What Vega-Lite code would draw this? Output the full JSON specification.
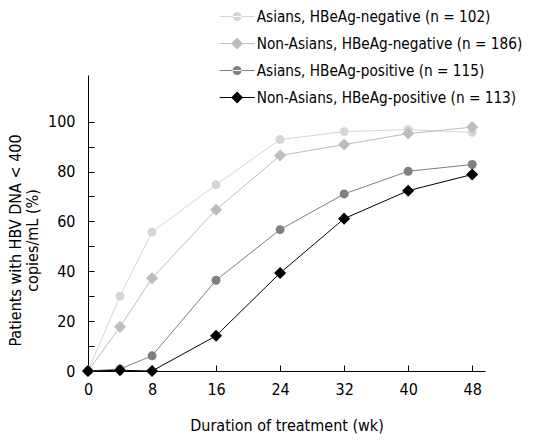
{
  "$schema": "https://vega.github.io/schema/vega-lite/v6.json",
  "width": 397,
  "height": 296,
  "autosize": {"type": "none"},
  "padding": {"left": 88, "top": 75, "right": 63, "bottom": 70},
  "background": "white",
  "config": {
    "view": {"stroke": null},
    "font": "DejaVu Sans Condensed",
    "axis": {
      "domainColor": "black",
      "tickColor": "black",
      "labelColor": "black",
      "titleColor": "black",
      "labelFont": "DejaVu Sans Condensed",
      "titleFont": "DejaVu Sans Condensed",
      "labelFontSize": 16,
      "titleFontSize": 16,
      "titleFontWeight": "normal",
      "grid": false,
      "tickSize": -6,
      "domainWidth": 1,
      "tickWidth": 1
    },
    "legend": {
      "labelFont": "DejaVu Sans Condensed",
      "labelFontSize": 15.2,
      "labelColor": "black"
    }
  },
  "data": {
    "values": [
      {"week": 0, "pct": 0, "series": "Asians, HBeAg-negative (n = 102)"},
      {"week": 4, "pct": 30, "series": "Asians, HBeAg-negative (n = 102)"},
      {"week": 8, "pct": 55.7, "series": "Asians, HBeAg-negative (n = 102)"},
      {"week": 16, "pct": 74.7, "series": "Asians, HBeAg-negative (n = 102)"},
      {"week": 24, "pct": 92.8, "series": "Asians, HBeAg-negative (n = 102)"},
      {"week": 32, "pct": 96, "series": "Asians, HBeAg-negative (n = 102)"},
      {"week": 40, "pct": 96.8, "series": "Asians, HBeAg-negative (n = 102)"},
      {"week": 48, "pct": 95.7, "series": "Asians, HBeAg-negative (n = 102)"},
      {"week": 0, "pct": 0, "series": "Non-Asians, HBeAg-negative (n = 186)"},
      {"week": 4, "pct": 17.7, "series": "Non-Asians, HBeAg-negative (n = 186)"},
      {"week": 8, "pct": 37.2, "series": "Non-Asians, HBeAg-negative (n = 186)"},
      {"week": 16, "pct": 64.7, "series": "Non-Asians, HBeAg-negative (n = 186)"},
      {"week": 24, "pct": 86.4, "series": "Non-Asians, HBeAg-negative (n = 186)"},
      {"week": 32, "pct": 90.8, "series": "Non-Asians, HBeAg-negative (n = 186)"},
      {"week": 40, "pct": 95.2, "series": "Non-Asians, HBeAg-negative (n = 186)"},
      {"week": 48, "pct": 97.8, "series": "Non-Asians, HBeAg-negative (n = 186)"},
      {"week": 0, "pct": 0, "series": "Asians, HBeAg-positive (n = 115)"},
      {"week": 4, "pct": 0.8, "series": "Asians, HBeAg-positive (n = 115)"},
      {"week": 8, "pct": 6.1, "series": "Asians, HBeAg-positive (n = 115)"},
      {"week": 16, "pct": 36.4, "series": "Asians, HBeAg-positive (n = 115)"},
      {"week": 24, "pct": 56.7, "series": "Asians, HBeAg-positive (n = 115)"},
      {"week": 32, "pct": 71, "series": "Asians, HBeAg-positive (n = 115)"},
      {"week": 40, "pct": 80.1, "series": "Asians, HBeAg-positive (n = 115)"},
      {"week": 48, "pct": 82.8, "series": "Asians, HBeAg-positive (n = 115)"},
      {"week": 0, "pct": 0, "series": "Non-Asians, HBeAg-positive (n = 113)"},
      {"week": 4, "pct": 0.3, "series": "Non-Asians, HBeAg-positive (n = 113)"},
      {"week": 8, "pct": 0, "series": "Non-Asians, HBeAg-positive (n = 113)"},
      {"week": 16, "pct": 14.1, "series": "Non-Asians, HBeAg-positive (n = 113)"},
      {"week": 24, "pct": 39.3, "series": "Non-Asians, HBeAg-positive (n = 113)"},
      {"week": 32, "pct": 61.1, "series": "Non-Asians, HBeAg-positive (n = 113)"},
      {"week": 40, "pct": 72.3, "series": "Non-Asians, HBeAg-positive (n = 113)"},
      {"week": 48, "pct": 78.8, "series": "Non-Asians, HBeAg-positive (n = 113)"}
    ]
  },
  "encoding": {
    "x": {
      "field": "week",
      "type": "quantitative",
      "scale": {"domain": [0, 49.6], "nice": false, "zero": false},
      "axis": {
        "title": "Duration of treatment (wk)",
        "values": [0, 8, 16, 24, 32, 40, 48],
        "labelPadding": 16,
        "titlePadding": 20,
        "labelFlush": false
      }
    },
    "y": {
      "field": "pct",
      "type": "quantitative",
      "scale": {"domain": [0, 118.7], "nice": false},
      "axis": {
        "title": ["Patients with HBV DNA < 400", "copies/mL (%)"],
        "values": [0, 10, 20, 30, 40, 50, 60, 70, 80, 90, 100],
        "labelExpr": "datum.value % 20 === 0 ? datum.label : ''",
        "labelPadding": 19,
        "titlePadding": 7,
        "titleLineHeight": 17,
        "titleY": 165,
        "labelFlush": false
      }
    }
  },
  "layer": [
    {
      "transform": [{"filter": "datum.week < 0"}],
      "mark": {"type": "point", "filled": true, "opacity": 1, "strokeWidth": 0},
      "encoding": {
        "color": {
          "field": "series",
          "type": "nominal",
          "scale": {
            "domain": ["Asians, HBeAg-negative (n = 102)", "Non-Asians, HBeAg-negative (n = 186)", "Asians, HBeAg-positive (n = 115)", "Non-Asians, HBeAg-positive (n = 113)"],
            "range": ["#d6d6d6", "#bdbdbd", "#7f7f7f", "#000000"]
          },
          "legend": {
            "title": null,
            "orient": "none",
            "legendX": 141.5,
            "legendY": -66,
            "padding": 0,
            "symbolSize": 100,
            "labelOffset": 12,
            "rowPadding": 11,
            "symbolStrokeWidth": 0,
            "labelLimit": 400,
            "symbolOpacity": 1
          }
        },
        "shape": {
          "field": "series",
          "type": "nominal",
          "scale": {
            "domain": ["Asians, HBeAg-negative (n = 102)", "Non-Asians, HBeAg-negative (n = 186)", "Asians, HBeAg-positive (n = 115)", "Non-Asians, HBeAg-positive (n = 113)"],
            "range": [
              "M-3.5,-0.1H3.5V0.1H-3.5Z M-0.9,0A0.9,0.9 0 1,0 0.9,0A0.9,0.9 0 1,0 -0.9,0Z",
              "M-3.5,-0.1H3.5V0.1H-3.5Z M0,-1.2L1.2,0L0,1.2L-1.2,0Z",
              "M-3.5,-0.1H3.5V0.1H-3.5Z M-0.9,0A0.9,0.9 0 1,0 0.9,0A0.9,0.9 0 1,0 -0.9,0Z",
              "M-3.5,-0.1H3.5V0.1H-3.5Z M0,-1.2L1.2,0L0,1.2L-1.2,0Z"
            ]
          },
          "legend": {
            "title": null,
            "orient": "none",
            "legendX": 141.5,
            "legendY": -66,
            "padding": 0,
            "symbolSize": 100,
            "labelOffset": 12,
            "rowPadding": 11,
            "symbolStrokeWidth": 0,
            "labelLimit": 400,
            "symbolOpacity": 1
          }
        }
      }
    },
    {
      "mark": {"type": "line", "strokeWidth": 1, "clip": false},
      "encoding": {
        "stroke": {
          "field": "series",
          "type": "nominal",
          "scale": {"range": ["#d6d6d6", "#7f7f7f", "#bdbdbd", "#000000"]},
          "legend": null
        }
      }
    },
    {
      "transform": [{"filter": "indexof(datum.series, 'Non-Asians') < 0"}],
      "mark": {"type": "point", "shape": "circle", "filled": true, "opacity": 1, "strokeWidth": 0, "size": 80, "clip": false},
      "encoding": {
        "fill": {
          "field": "series",
          "type": "nominal",
          "scale": {"range": ["#d6d6d6", "#7f7f7f", "#bdbdbd", "#000000"]},
          "legend": null
        }
      }
    },
    {
      "transform": [{"filter": "indexof(datum.series, 'Non-Asians') >= 0"}],
      "mark": {"type": "point", "shape": "diamond", "filled": true, "opacity": 1, "strokeWidth": 0, "size": 145, "clip": false},
      "encoding": {
        "fill": {"field": "series", "type": "nominal", "legend": null}
      }
    }
  ]
}
